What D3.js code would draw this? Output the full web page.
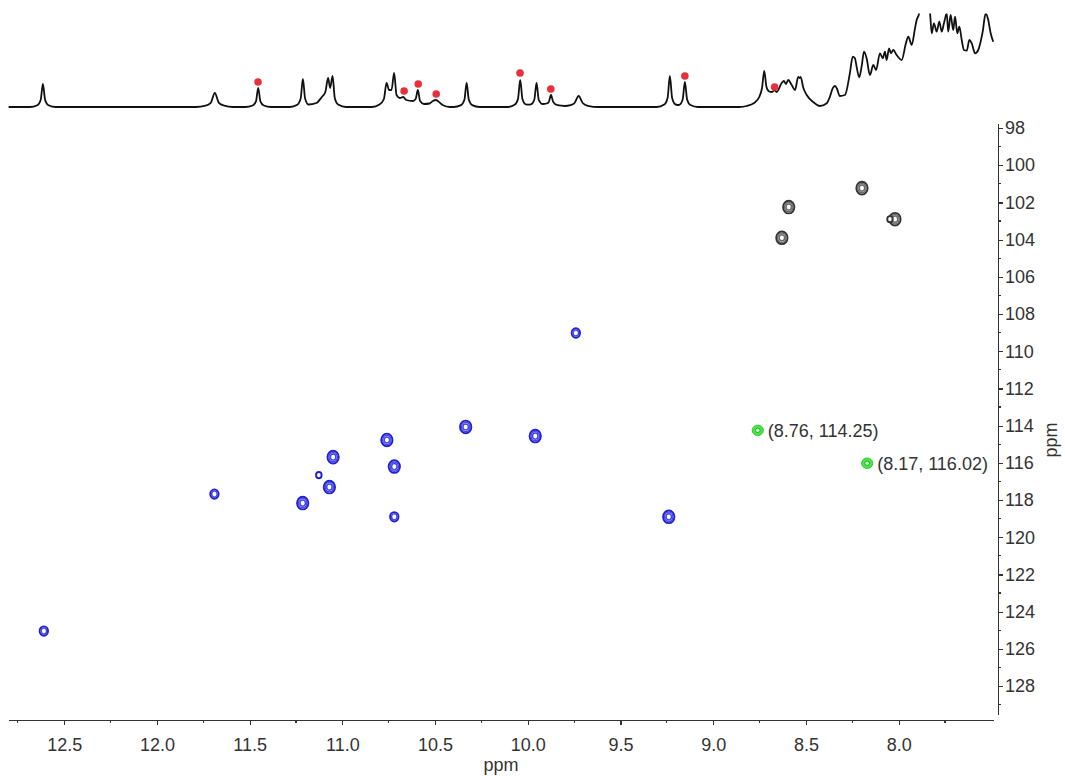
<!DOCTYPE html>
<meta charset="utf-8">
<style>
  body { margin: 0; background: #fff; }
  svg { display: block; }
  text { font-family: "Liberation Sans", Arial, sans-serif; fill: #333; }
  .axis text { font-size: 18px; fill: #333; }
  .axis path, .axis line { stroke: #333; stroke-width: 1.2px; shape-rendering: crispEdges; }
  .spec { fill: none; stroke: #111; stroke-width: 1.8px; stroke-linejoin: round; }
  .lbl { font-size: 18px; }
</style>
<svg width="1065" height="776"></svg>
<script src="https://d3js.org/d3.v7.min.js"></script>
<script>

  // tick labels
  var xTicks = [12.5, 12.0, 11.5, 11.0, 10.5, 10.0, 9.5, 9.0, 8.5, 8.0];
  var xMinor = [12.75, 12.25, 11.75, 11.25, 10.75, 10.25, 9.75, 9.25, 8.75, 8.25, 7.75];
  var yTicks = [98, 100, 102, 104, 106, 108, 110, 112, 114, 116, 118, 120, 122, 124, 126, 128];
  var yMinor = [99, 101, 103, 105, 107, 109, 111, 113, 115, 117, 119, 121, 123, 125, 127, 129];

  // 1H projection, [ppm, intensity]
  var spectrum = [
    [12.80, 0], [12.685, 0], [12.645, 1.8], [12.627, 7], [12.615, 23], [12.603, 7], [12.585, 1.8], [12.545, 0],
    [11.79, 0], [11.738, 1.4], [11.71, 4.2], [11.688, 14], [11.666, 4.2], [11.638, 1.4], [11.59, 0],
    [11.524, 0], [11.484, 1.5], [11.466, 5.7], [11.454, 19], [11.442, 5.7], [11.424, 1.5], [11.384, 0],
    [11.283, 0], [11.243, 2.2], [11.225, 8.4], [11.213, 28], [11.201, 8.4], [11.183, 2.5], [11.14, 4],
    [11.111, 10], [11.092, 15], [11.077, 29], [11.066, 19], [11.053, 31], [11.041, 9], [11.023, 2.5], [10.98, 0],
    [10.84, 0], [10.80, 2.5], [10.776, 8], [10.762, 24], [10.748, 17], [10.735, 17], [10.721, 34], [10.708, 12],
    [10.69, 9], [10.672, 10], [10.656, 7], [10.62, 6], [10.605, 8], [10.593, 17], [10.581, 6], [10.56, 3],
    [10.53, 3.5], [10.512, 6], [10.497, 7], [10.482, 5.5], [10.46, 2], [10.42, 0],
    [10.40, 0], [10.36, 1.9], [10.342, 7.2], [10.33, 24], [10.318, 7.2], [10.30, 1.9], [10.26, 0],
    [10.11, 0], [10.071, 2.2], [10.053, 8.1], [10.041, 27], [10.029, 8.1], [10.01, 2.6], [9.997, 2.4],
    [9.983, 2.6], [9.965, 7.2], [9.953, 24], [9.941, 7.2], [9.92, 3], [9.898, 3.5], [9.887, 5], [9.875, 12],
    [9.863, 5], [9.84, 1.8], [9.80, 1],
    [9.77, 1.8], [9.748, 4], [9.726, 11], [9.704, 4], [9.676, 1.2], [9.62, 0],
    [9.304, 0], [9.264, 2.5], [9.246, 9.3], [9.234, 31], [9.222, 9.3], [9.204, 2.6], [9.193, 2], [9.183, 2.2],
    [9.165, 7.5], [9.153, 25], [9.141, 7.5], [9.123, 2], [9.083, 0],
    [8.86, 0], [8.82, 1], [8.78, 4], [8.752, 10], [8.737, 19], [8.725, 36], [8.713, 20], [8.698, 15.5],
    [8.683, 15], [8.669, 17], [8.658, 15], [8.631, 24], [8.619, 26], [8.608, 23], [8.596, 27], [8.577, 22],
    [8.559, 17], [8.542, 30], [8.535, 29], [8.529, 30], [8.514, 19], [8.496, 12], [8.461, 5], [8.4245, 1],
    [8.388, 3.7], [8.371, 10.3], [8.356, 18.7], [8.344, 21], [8.334, 18.7], [8.317, 11], [8.290, 12],
    [8.263, 34], [8.248, 50.3], [8.236, 48.7], [8.227, 40.3], [8.213, 29.7], [8.200, 40.3], [8.187, 55.3],
    [8.173, 48.7], [8.155, 32], [8.137, 42], [8.122, 37], [8.101, 53.7], [8.086, 48.7], [8.074, 55.3],
    [8.065, 47], [8.052, 58.7], [8.042, 53.7], [8.029, 57], [8.011, 52], [7.984, 47], [7.961, 63.7],
    [7.948, 70.3], [7.930, 62], [7.912, 78.7], [7.903, 87], [7.892, 92], [7.880, 102], [7.847, 102],
    [7.831, 93.7], [7.822, 73.7], [7.810, 83.7], [7.795, 75.3], [7.781, 85.3], [7.768, 75.3], [7.756, 83.7],
    [7.741, 93.7], [7.733, 75.3], [7.720, 92], [7.706, 77], [7.696, 90.3], [7.684, 73.7], [7.673, 80.3],
    [7.660, 67], [7.648, 57], [7.633, 56.3], [7.619, 67], [7.606, 63.7], [7.588, 53.7], [7.571, 57],
    [7.547, 75.3], [7.531, 93.7], [7.517, 87], [7.504, 73.7], [7.490, 65.3]
  ];

  // red markers on the projection [ppm, intensity]
  var markers = [
    [11.455, 25], [10.667, 16], [10.591, 23], [10.494, 13], [10.042, 34], [9.876, 18], [9.153, 31], [8.669, 20]
  ];

  // cross peaks [1H ppm, 15N ppm, level]
  var bluePeaks = [
    [12.61, 125.04, 2], [11.69, 117.68, 2], [11.214, 118.16, 3], [11.127, 116.66, 1],
    [11.07, 117.3, 3], [11.05, 115.69, 3], [10.76, 114.77, 3], [10.72, 116.2, 3],
    [10.72, 118.9, 2], [10.335, 114.07, 3], [9.96, 114.56, 3], [9.741, 109.02, 2], [9.24, 118.9, 3]
  ];
  var blackPeaks = [
    [8.198, 101.23, 3], [8.593, 102.25, 3], [8.63, 103.9, 3], [8.02, 102.9, 3], [8.047, 102.9, 1]
  ];
  var pickedPeaks = [[8.76, 114.25], [8.17, 116.02]];

  var svg = d3.select("svg");

  var x = d3.scaleLinear().domain([12.8, 7.4914]).range([8.6, 993]);
  var y = d3.scaleLinear().domain([97.73, 129.5]).range([123, 714]);
  var yS = d3.scaleLinear().domain([0, 93]).range([107, 14]);

  // projection
  svg.append("clipPath").attr("id", "clip")
    .append("rect").attr("x", 0).attr("y", 13.5).attr("width", 1000).attr("height", 100);

  var line = d3.line()
    .x(function (d) { return x(d[0]); })
    .y(function (d) { return yS(d[1]); })
    .curve(d3.curveMonotoneX);

  svg.append("path")
    .datum(spectrum)
    .attr("class", "spec")
    .attr("clip-path", "url(#clip)")
    .attr("d", line);

  svg.selectAll(".mk").data(markers).enter().append("circle")
    .attr("class", "mk")
    .attr("cx", function (d) { return x(d[0]); })
    .attr("cy", function (d) { return yS(d[1]); })
    .attr("r", 3.8)
    .attr("fill", "#e8303c");

  // x axis
  var gx = svg.append("g").attr("class", "axis").attr("transform", "translate(0,720)");
  gx.call(d3.axisBottom(x).tickValues(xTicks).tickSize(5).tickSizeOuter(0).tickPadding(13)
    .tickFormat(d3.format(".1f")));
  gx.selectAll(".minor").data(xMinor).enter().append("line")
    .attr("class", "minor")
    .attr("x1", function (d) { return x(d); }).attr("x2", function (d) { return x(d); })
    .attr("y1", 0).attr("y2", 3);
  svg.append("text").attr("x", 501).attr("y", 771).attr("text-anchor", "middle")
    .style("font-size", "18px").text("ppm");

  // y axis
  var gy = svg.append("g").attr("class", "axis").attr("transform", "translate(998,0)");
  gy.call(d3.axisRight(y).tickValues(yTicks).tickSize(5).tickSizeOuter(0).tickPadding(2));
  gy.selectAll(".minor").data(yMinor).enter().append("line")
    .attr("class", "minor")
    .attr("y1", function (d) { return y(d); }).attr("y2", function (d) { return y(d); })
    .attr("x1", 0).attr("x2", 3);
  svg.append("text").attr("transform", "translate(1057,440) rotate(-90)")
    .attr("text-anchor", "middle").style("font-size", "18px").text("ppm");

  // contours
  function drawPeaks(data, outer, inner) {
    var g = svg.append("g");
    data.forEach(function (p) {
      for (var k = p[2]; k >= 1; k--) {
        var rx = 1.3 + 1.45 * k;
        g.append("ellipse")
          .attr("cx", x(p[0])).attr("cy", y(p[1]))
          .attr("rx", rx).attr("ry", rx * 1.12)
          .attr("fill", k === 1 ? "#fff" : "none")
          .attr("stroke", k === p[2] ? outer : inner)
          .attr("stroke-width", k === p[2] ? 1.9 : 1.5);
      }
    });
  }
  drawPeaks(bluePeaks, "#2020d2", "#4646e4");
  drawPeaks(blackPeaks, "#333", "#6a6a6a");

  // picked peaks
  var pk = svg.selectAll(".pk").data(pickedPeaks).enter().append("g").attr("class", "pk");
  pk.append("ellipse")
    .attr("cx", function (d) { return x(d[0]); }).attr("cy", function (d) { return y(d[1]); })
    .attr("rx", 5.6).attr("ry", 5.2)
    .attr("fill", "#4ce44c").attr("stroke", "#2ccc2c").attr("stroke-width", 1);
  pk.append("ellipse")
    .attr("cx", function (d) { return x(d[0]); }).attr("cy", function (d) { return y(d[1]); })
    .attr("rx", 2.4).attr("ry", 2.2)
    .attr("fill", "#c8f7c8").attr("stroke", "#22b022").attr("stroke-width", 1);
  pk.append("text").attr("class", "lbl")
    .attr("x", function (d) { return x(d[0]) + 10; })
    .attr("y", function (d) { return y(d[1]) + 7; })
    .text(function (d) { return "(" + d[0].toFixed(2) + ", " + d[1].toFixed(2) + ")"; });

</script>
